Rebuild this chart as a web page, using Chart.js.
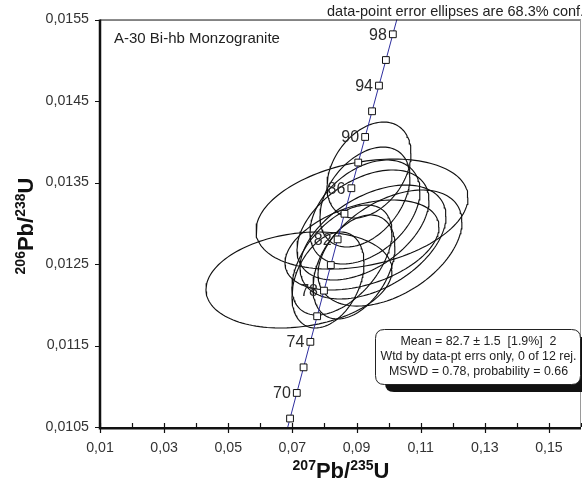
<!DOCTYPE html>
<html>
<head>
<meta charset="utf-8">
<script src="https://cdn.jsdelivr.net/npm/chart.js@4/dist/chart.umd.min.js"></script>
<style>
  html, body { margin: 0; padding: 0; background: #fff; }
  canvas { display: block; }
</style>
</head>
<body>
<canvas id="c" width="582" height="495"></canvas>
<script>
// Concordia reference ages (Ma) and their isotope ratios
const concAges = [66, 68, 70, 72, 74, 76, 78, 80, 82, 84, 86, 88, 90, 92, 94, 96, 98, 100];
const concX = [0.067159, 0.069263, 0.071371, 0.073484, 0.075600, 0.077721, 0.079846, 0.081975, 0.084108,
               0.086246, 0.088387, 0.090533, 0.092683, 0.094838, 0.096996, 0.099159, 0.101326, 0.103498];
const concY = [0.010291, 0.010604, 0.010918, 0.011232, 0.011545, 0.011859, 0.012173, 0.012487, 0.012802,
               0.013116, 0.013430, 0.013745, 0.014059, 0.014374, 0.014689, 0.015003, 0.015319, 0.015633];
const concLabelAges = [70, 74, 78, 82, 86, 90, 94, 98];

// Spot analyses: 207Pb/235U, 206Pb/238U, ellipse half-widths and error correlation
const spotX   = [0.09388, 0.09263, 0.09170, 0.07205, 0.08110, 0.10043, 0.09513, 0.09201, 0.09263, 0.09170, 0.08920, 0.08546];
const spotY   = [0.013653, 0.013322, 0.013113, 0.012304, 0.012304, 0.012696, 0.012770, 0.012979, 0.013138, 0.012733, 0.012463, 0.012549];
const spotSX  = [0.01310, 0.01403, 0.03305, 0.02900, 0.01123, 0.02245, 0.02276, 0.02058, 0.01715, 0.02401, 0.01278, 0.01559];
const spotSY  = [0.000589, 0.000613, 0.000675, 0.000589, 0.000589, 0.000712, 0.000699, 0.000675, 0.000638, 0.000552, 0.000638, 0.000675];
const spotRho = [0.35, 0.40, 0.30, 0.20, 0.35, 0.45, 0.45, 0.45, 0.40, 0.40, 0.40, 0.50];

// Axis ticks
const xMajorTicks = [0.01, 0.03, 0.05, 0.07, 0.09, 0.11, 0.13, 0.15];
const xMinorTicks = [0.02, 0.04, 0.06, 0.08, 0.10, 0.12, 0.14, 0.16];
const yMajorTicks = [0.0105, 0.0115, 0.0125, 0.0135, 0.0145, 0.0155];

const sampleName = 'A-30 Bi-hb Monzogranite';
const noteText = 'data-point error ellipses are 68.3% conf.';
const resultLines = [
  'Mean = 82.7 \u00b1 1.5  [1.9%]  2',
  'Wtd by data-pt errs only, 0 of 12 rej.',
  'MSWD = 0.78, probability = 0.66'
];

const FONT = '"Liberation Sans", Arial, Helvetica, sans-serif';

// Outline of one error ellipse from its centre, half-widths and correlation
function ellipseOutline(i) {
  const pts = [];
  const n = 144;
  const r = spotRho[i], s = Math.sqrt(1 - r * r);
  for (let k = 0; k <= n; k++) {
    const t = (k / n) * Math.PI * 2;
    pts.push({
      x: spotX[i] + spotSX[i] * Math.cos(t),
      y: spotY[i] + spotSY[i] * (r * Math.cos(t) + s * Math.sin(t))
    });
  }
  return pts;
}

const lastConc = concAges.length - 1;
const datasets = [];
datasets.push({
  type: 'line',
  label: 'concordia',
  data: concAges.map((a, i) => ({ x: concX[i], y: concY[i] })),
  borderColor: '#2e2e9e',
  borderWidth: 1,
  tension: 0,
  pointStyle: 'rect',
  // end points only carry the curve past the frame
  pointRadius: c => (c.dataIndex === 0 || c.dataIndex === lastConc) ? 0 : 4.8,
  pointHoverRadius: 0,
  pointBackgroundColor: '#ffffff',
  pointBorderColor: '#111111',
  pointBorderWidth: 1,
  order: 0
});
spotX.forEach((_, i) => {
  datasets.push({
    type: 'line',
    label: 'spot ' + (i + 1),
    data: ellipseOutline(i),
    borderColor: '#111111',
    borderWidth: 1.15,
    pointRadius: 0,
    pointHoverRadius: 0,
    tension: 0,
    fill: false,
    order: 1
  });
});

function drawSupText(ctx, parts, x, y, mainSize, supSize, rise) {
  let w = 0;
  parts.forEach(p => {
    ctx.font = 'bold ' + (p.sup ? supSize : mainSize) + 'px ' + FONT;
    p.w = ctx.measureText(p.t).width;
    w += p.w;
  });
  let cx = x - w / 2;
  ctx.textAlign = 'left';
  ctx.textBaseline = 'alphabetic';
  parts.forEach(p => {
    ctx.font = 'bold ' + (p.sup ? supSize : mainSize) + 'px ' + FONT;
    ctx.fillText(p.t, cx, p.sup ? y - rise : y);
    cx += p.w;
  });
}

function roundRect(ctx, x, y, w, h, r) {
  ctx.beginPath();
  ctx.moveTo(x + r, y);
  ctx.lineTo(x + w - r, y);
  ctx.quadraticCurveTo(x + w, y, x + w, y + r);
  ctx.lineTo(x + w, y + h - r);
  ctx.quadraticCurveTo(x + w, y + h, x + w - r, y + h);
  ctx.lineTo(x + r, y + h);
  ctx.quadraticCurveTo(x, y + h, x, y + h - r);
  ctx.lineTo(x, y + r);
  ctx.quadraticCurveTo(x, y, x + r, y);
  ctx.closePath();
}

const decorations = {
  id: 'decorations',
  afterDatasetsDraw(chart) {
    const ctx = chart.ctx;
    const a = chart.chartArea;
    const xs = chart.scales.x, ys = chart.scales.y;
    ctx.save();

    // frame
    ctx.strokeStyle = '#111';
    ctx.lineWidth = 1;
    ctx.beginPath();
    ctx.moveTo(a.left, a.top + 0.5);
    ctx.lineTo(a.right, a.top + 0.5);
    ctx.stroke();
    ctx.strokeStyle = '#9a9a9a';
    ctx.beginPath();
    ctx.moveTo(a.right - 0.5, a.top);
    ctx.lineTo(a.right - 0.5, a.bottom);
    ctx.stroke();
    ctx.strokeStyle = '#111';
    ctx.lineWidth = 2.5;
    ctx.beginPath();
    ctx.moveTo(a.left, a.top);
    ctx.lineTo(a.left, a.bottom + 1.25);
    ctx.lineTo(a.right, a.bottom + 1.25);
    ctx.stroke();

    // tick marks
    ctx.lineWidth = 1.2;
    ctx.beginPath();
    xMajorTicks.forEach(v => {
      const px = Math.round(xs.getPixelForValue(v)) + 0.5;
      ctx.moveTo(px, a.bottom - 4);
      ctx.lineTo(px, a.bottom + 6);
    });
    xMinorTicks.forEach(v => {
      const px = Math.round(xs.getPixelForValue(v)) + 0.5;
      ctx.moveTo(px, a.bottom - 4);
      ctx.lineTo(px, a.bottom);
    });
    yMajorTicks.forEach(v => {
      const py = Math.round(ys.getPixelForValue(v)) + 0.5;
      ctx.moveTo(a.left - 5, py);
      ctx.lineTo(a.left, py);
    });
    ctx.stroke();

    // concordia age labels
    ctx.fillStyle = '#2a2a2a';
    ctx.font = '16px ' + FONT;
    ctx.textAlign = 'right';
    ctx.textBaseline = 'middle';
    concLabelAges.forEach(age => {
      const i = concAges.indexOf(age);
      const px = xs.getPixelForValue(concX[i]);
      const py = ys.getPixelForValue(concY[i]);
      ctx.fillText(String(age), px - 6, py + 1);
    });

    // sample name
    ctx.textAlign = 'left';
    ctx.font = '15px ' + FONT;
    ctx.fillStyle = '#222';
    ctx.fillText(sampleName, 114, 39);

    // result box with drop shadow
    const bx = 375, by = 329, bw = 205, bh = 55;
    ctx.fillStyle = '#111';
    roundRect(ctx, bx + 10, by + 8, bw, bh, 9);
    ctx.fill();
    ctx.fillStyle = '#fff';
    ctx.strokeStyle = '#222';
    ctx.lineWidth = 1;
    roundRect(ctx, bx + 0.5, by + 0.5, bw, bh, 9);
    ctx.fill();
    ctx.stroke();
    ctx.fillStyle = '#222';
    ctx.font = '12.4px ' + FONT;
    ctx.textAlign = 'center';
    resultLines.forEach((t, k) => {
      ctx.fillText(t, bx + bw / 2 + 1, by + 13 + k * 15);
    });

    ctx.restore();
  },
  afterDraw(chart) {
    const ctx = chart.ctx;
    ctx.save();
    // note above the frame
    ctx.fillStyle = '#222';
    ctx.font = '14.5px ' + FONT;
    ctx.textAlign = 'left';
    ctx.textBaseline = 'alphabetic';
    ctx.fillText(noteText, 327, 16);

    // axis titles
    ctx.fillStyle = '#111';
    drawSupText(ctx, [{ t: '207', sup: true }, { t: 'Pb/', sup: false }, { t: '235', sup: true }, { t: 'U', sup: false }],
      341, 478, 22, 14, 8);
    ctx.translate(33, 226);
    ctx.rotate(-Math.PI / 2);
    drawSupText(ctx, [{ t: '206', sup: true }, { t: 'Pb/', sup: false }, { t: '238', sup: true }, { t: 'U', sup: false }],
      0, 0, 22, 14, 8);
    ctx.restore();
  }
};

new Chart(document.getElementById('c'), {
  type: 'scatter',
  data: { datasets },
  options: {
    responsive: false,
    devicePixelRatio: 1,
    animation: false,
    events: [],
    layout: { padding: { top: 19, right: 1, left: 0, bottom: 0 } },
    plugins: { legend: { display: false }, tooltip: { enabled: false }, title: { display: false } },
    scales: {
      x: {
        type: 'linear',
        min: 0.01,
        max: 0.16,
        afterBuildTicks: s => { s.ticks = xMajorTicks.map(v => ({ value: v })); },
        afterFit: s => { s.height = 68; s.paddingLeft = 0; s.paddingRight = 0; },
        grid: { display: false, drawTicks: false },
        border: { display: false },
        ticks: {
          autoSkip: false,
          maxRotation: 0,
          padding: 13,
          color: '#333',
          font: { family: FONT, size: 14.2 },
          callback: v => Number(v).toFixed(2).replace('.', ',')
        }
      },
      y: {
        type: 'linear',
        min: 0.0105,
        max: 0.0155,
        afterBuildTicks: s => { s.ticks = yMajorTicks.map(v => ({ value: v })); },
        afterFit: s => { s.width = 100; },
        grid: { display: false, drawTicks: false },
        border: { display: false },
        ticks: {
          autoSkip: false,
          padding: 11,
          color: '#333',
          font: { family: FONT, size: 14.2 },
          callback: v => Number(v).toFixed(4).replace('.', ',')
        }
      }
    }
  },
  plugins: [decorations]
});
</script>
</body>
</html>
